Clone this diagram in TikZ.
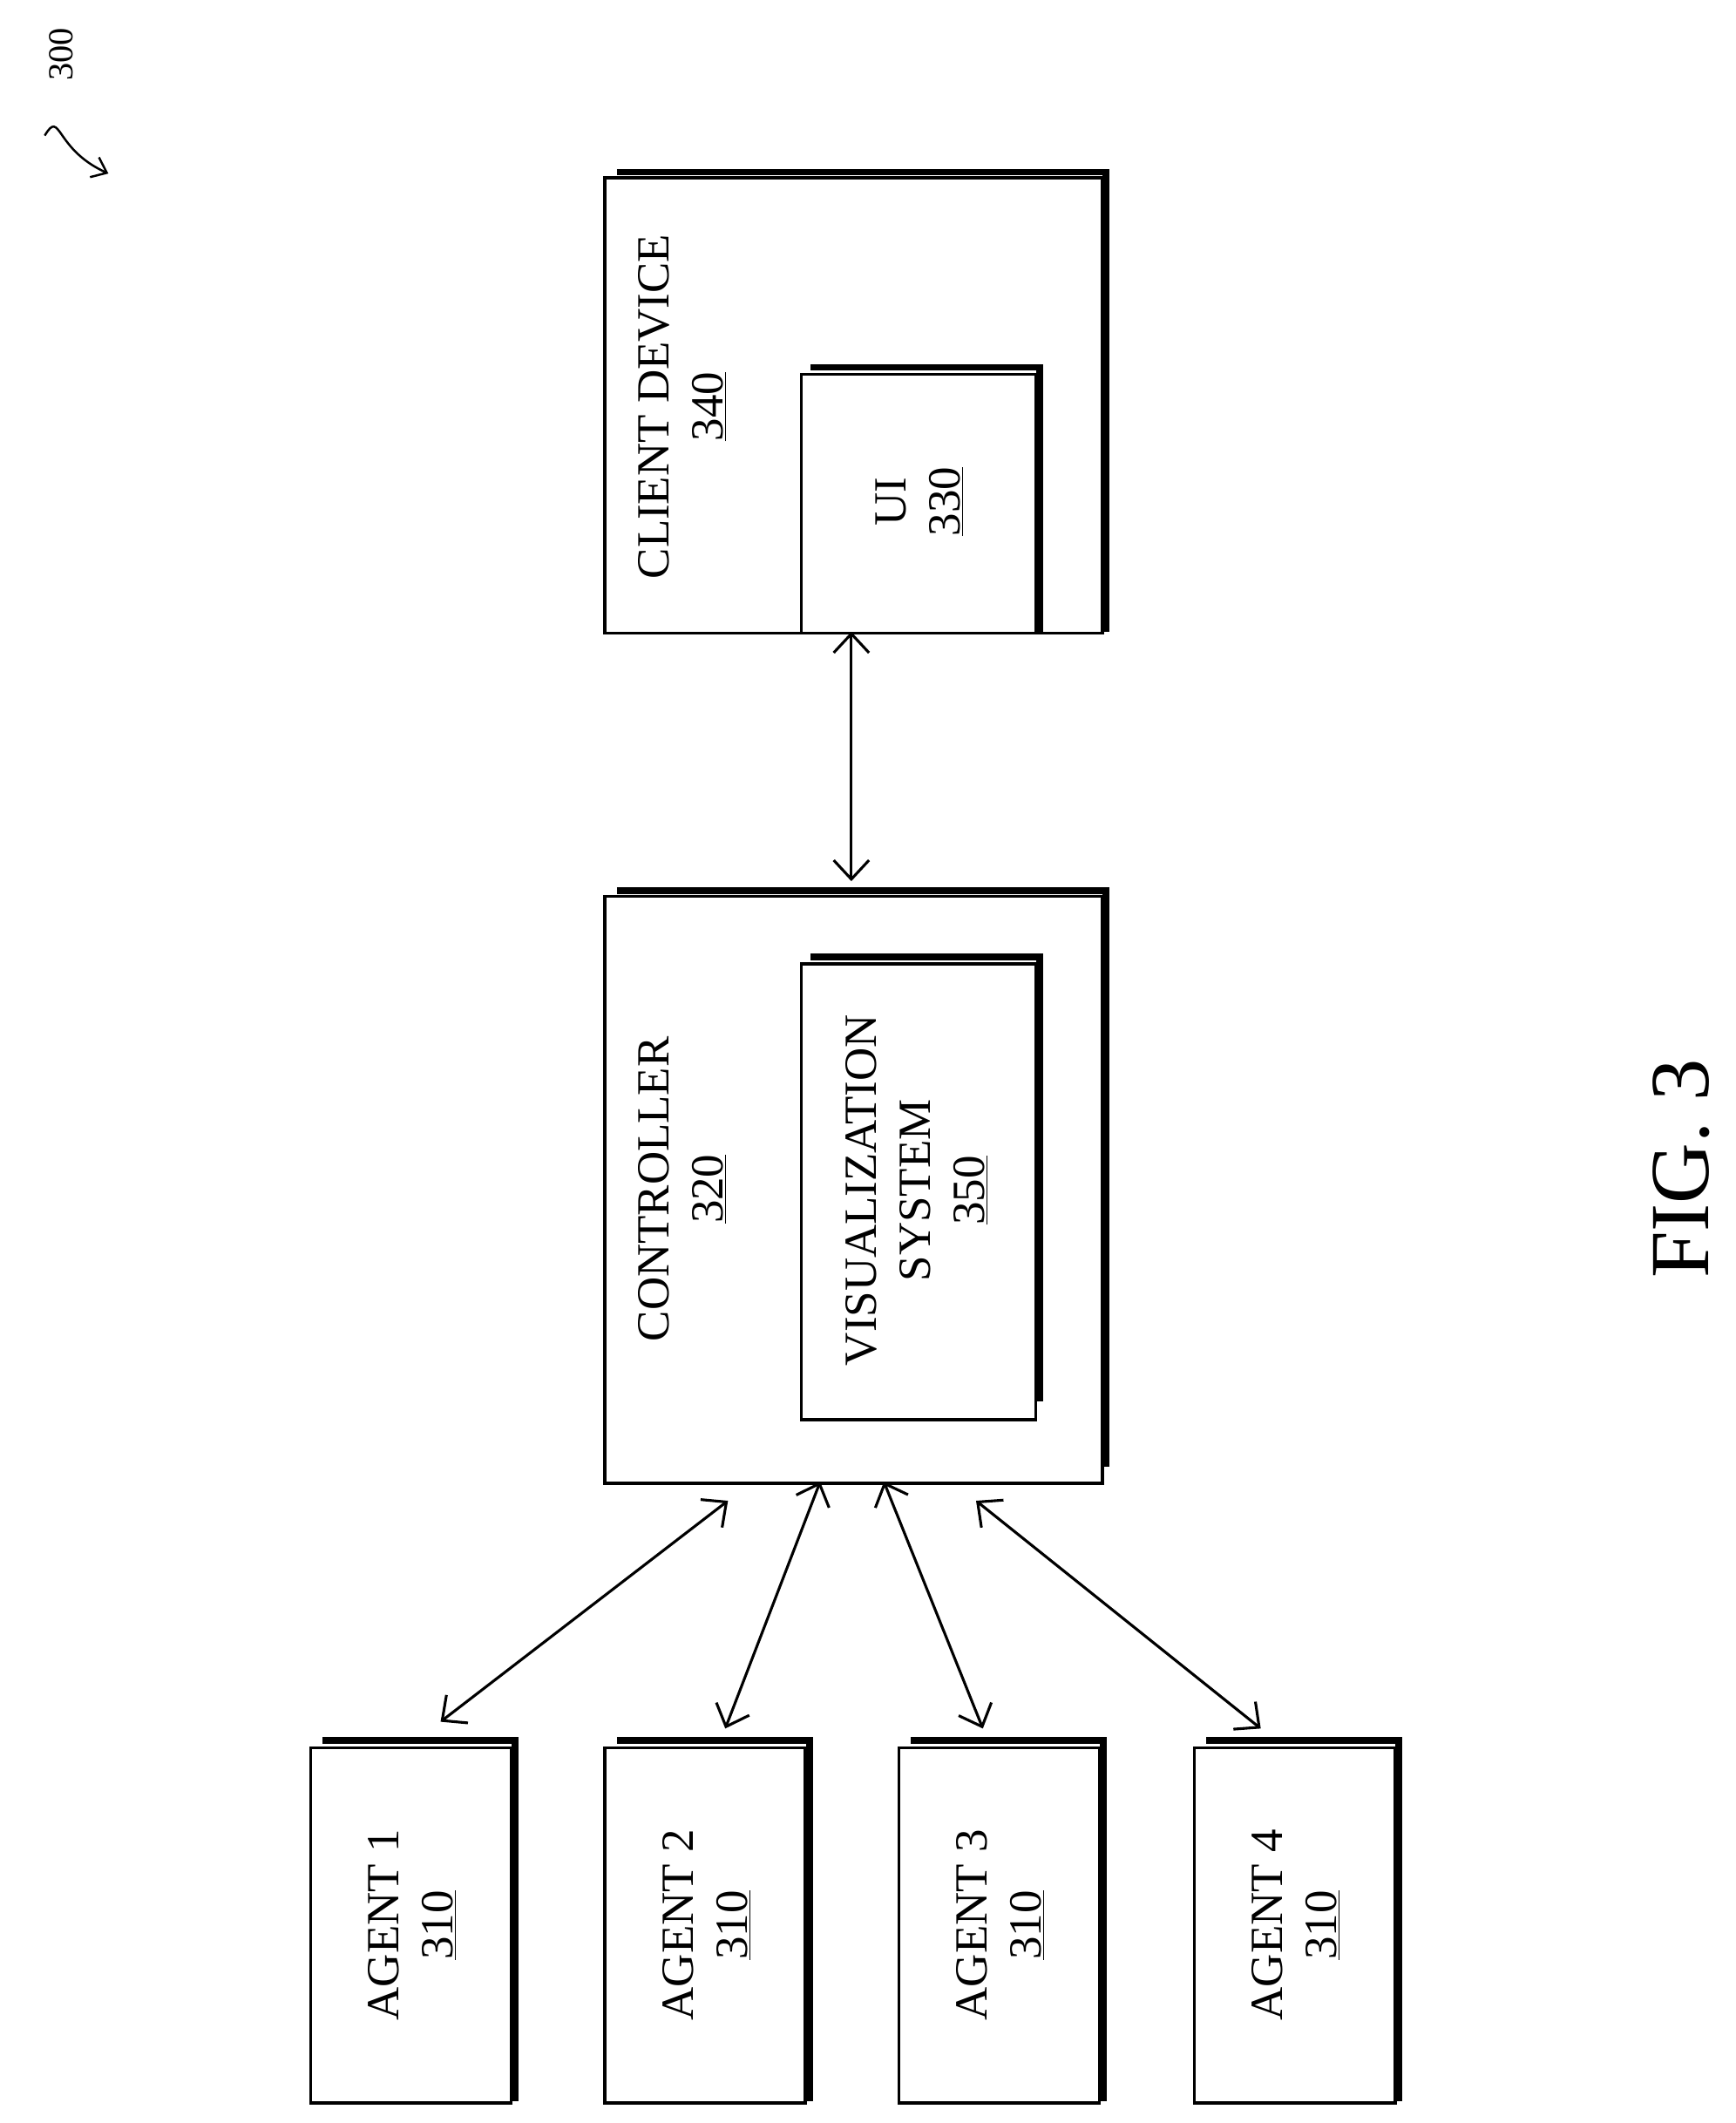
\documentclass[tikz,border=0pt]{standalone}
\usepackage{fontspec}
\setmainfont{Liberation Serif}
\usetikzlibrary{arrows.meta}
\begin{document}
\begin{tikzpicture}[x=1pt,y=-1pt,
  box/.style={draw,line width=2.2pt,anchor=north west,inner sep=0pt},
  shad/.style={line width=5pt},
  lbl/.style={rotate=90,align=center,font=\fontsize{34}{40}\selectfont,inner sep=0pt},
  arr/.style={line width=2pt,{Straight Barb[length=14pt,width=26pt,line width=2pt]}-{Straight Barb[length=14pt,width=26pt,line width=2pt]}}]
\useasboundingbox (0,0) rectangle (1280,1566);
% client device
\node[box,minimum width=367pt,minimum height=336pt] (cd) at (445,130) {};
\draw[shad] (455,127) -- (816,127) -- (816,466);
\node[lbl] (cdt) at (503,300) {CLIENT DEVICE\\\underline{340}};
\node[box,minimum width=173pt,minimum height=191pt] (ui) at (590,275) {};
\draw[shad] (598,271) -- (767,271) -- (767,466);
\node[lbl] (uit) at (678,370) {UI\\\underline{330}};
% controller
\node[box,minimum width=367pt,minimum height=433pt] (ct) at (445,660) {};
\draw[shad] (455,657) -- (816,657) -- (816,1082);
\node[lbl] (ctt) at (503,877) {CONTROLLER\\\underline{320}};
\node[box,minimum width=173pt,minimum height=336pt] (vs) at (590,710) {};
\draw[shad] (598,706) -- (767,706) -- (767,1034);
\node[lbl] (vst) at (676,878) {VISUALIZATION\\SYSTEM\\\underline{350}};
% agents
\foreach \i/\x in {1/228,2/445,3/662,4/880}{
  \node[box,minimum width=148pt,minimum height=262pt] (ag\i) at (\x,1288) {};
  \draw[shad] (\x+10,1284) -- (\x+152,1284) -- (\x+152,1550);
  \node[lbl] (ag\i t) at (\x+76,1420) {AGENT \i\\\underline{310}};
}
% arrows
\coordinate (c1) at (628,466); \coordinate (c2) at (628,650);
\draw[arr] (c1) -- (c2);
\coordinate (a1) at (325,1270); \coordinate (b1) at (537,1107);
\coordinate (a2) at (535,1275); \coordinate (b2) at (605,1093);
\coordinate (a3) at (725,1275); \coordinate (b3) at (652,1093);
\coordinate (a4) at (930,1275); \coordinate (b4) at (720,1107);
\foreach \i in {1,2,3,4}{\draw[arr] (a\i) -- (b\i);}
% fig label
\node[rotate=90,font=\fontsize{62}{66}\selectfont] (fig) at (1240,862) {FIG. 3};
\node[rotate=90,font=\fontsize{26}{28}\selectfont,anchor=center] (ref) at (45,40) {300};
\coordinate (r1) at (33,100); \coordinate (r2) at (80,128);
\draw[line width=1.6pt,-{Straight Barb[length=10pt,width=16pt]}] (r1) .. controls (45,80) and (40,110) .. (r2);
\end{tikzpicture}
\end{document}
